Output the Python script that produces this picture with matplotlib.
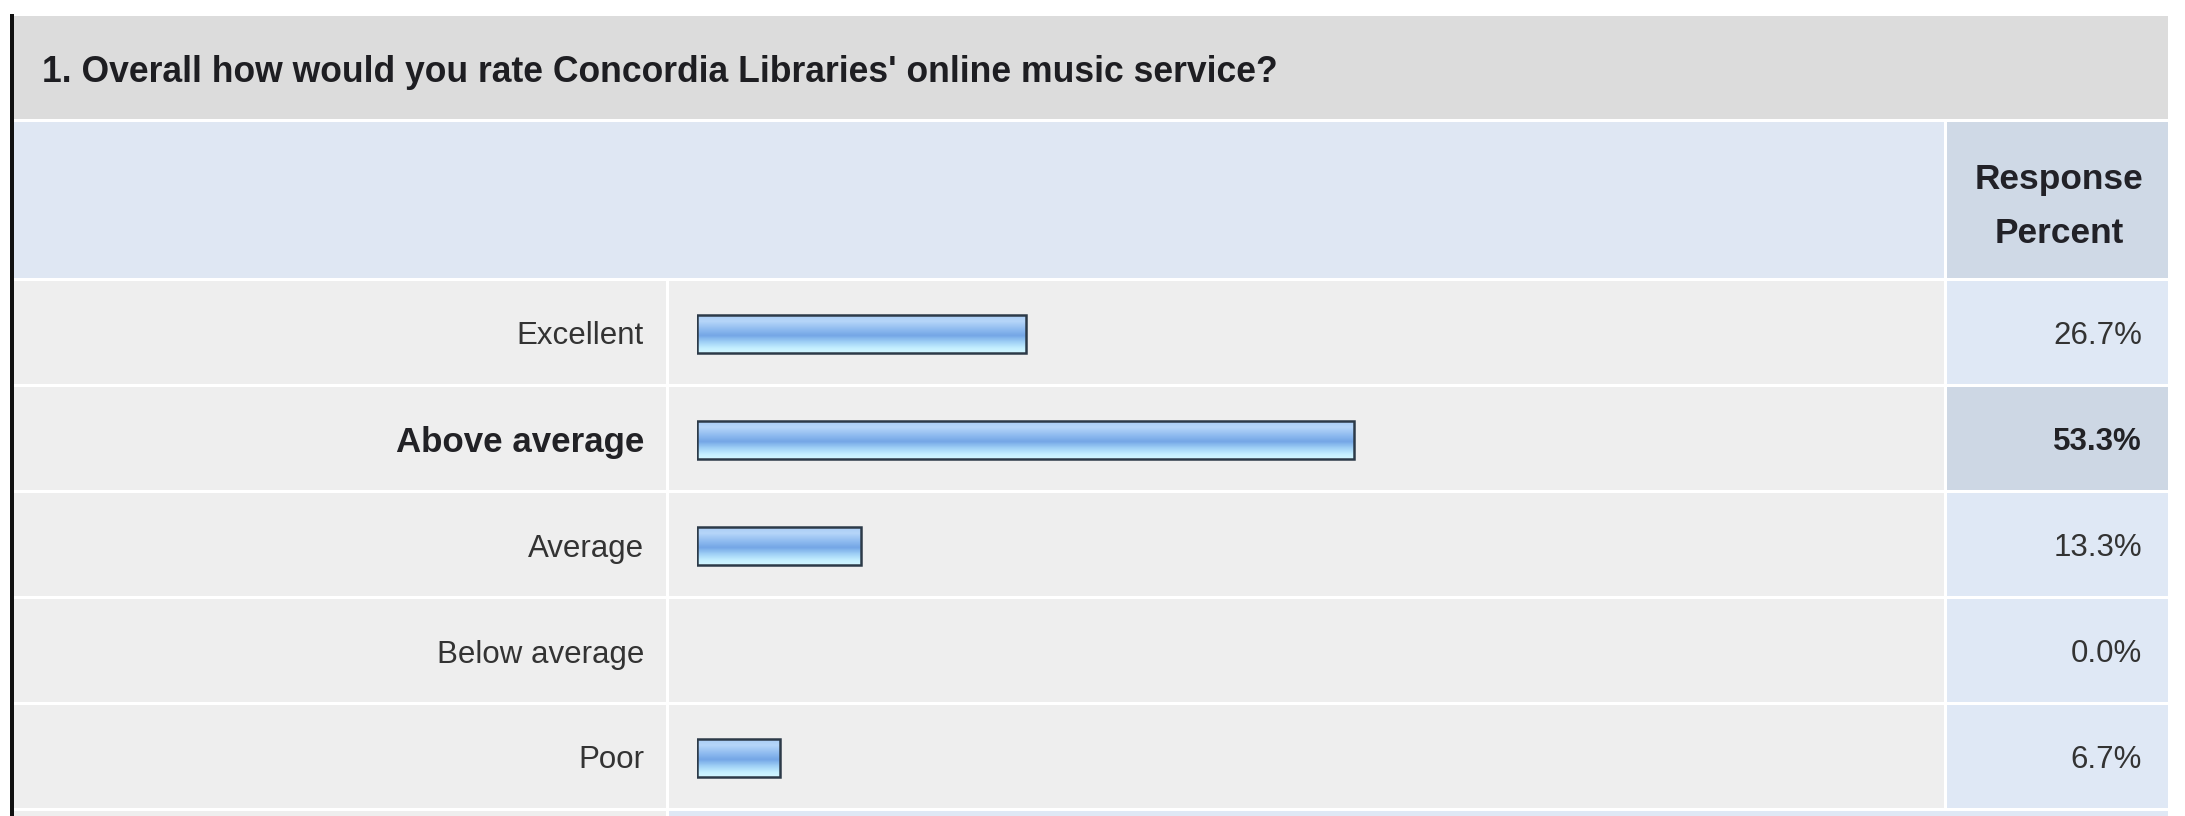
import numpy as np
import matplotlib
matplotlib.use("Agg")
import matplotlib.pyplot as plt
from matplotlib.patches import Rectangle
from matplotlib.colors import to_rgb

# ---- data ----
title = "1. Overall how would you rate Concordia Libraries' online music service?"
categories = ["Excellent", "Above average", "Average", "Below average", "Poor"]
percents = [26.7, 53.3, 13.3, 0.0, 6.7]
header_lines = ["Response", "Percent"]
highlight_row = 1

W, H = 2185, 816
fig = plt.figure(figsize=(W / 100, H / 100), dpi=100)
fig.patch.set_facecolor("white")
FONT = "Liberation Sans"

bg = fig.add_axes([0, 0, 1, 1])
bg.set_xlim(0, W)
bg.set_ylim(H, 0)
bg.axis("off")

def rect(x0, y0, x1, y1, color, z=1):
    bg.add_patch(Rectangle((x0, y0), x1 - x0, y1 - y0, facecolor=color,
                           edgecolor="none", zorder=z))

renderer = fig.canvas.get_renderer()

def fit(t, target_w):
    w = t.get_window_extent(renderer).width
    t.set_fontsize(t.get_fontsize() * target_w / w)

# layout (pixels)
L, R = 14, 2168
col1 = 669      # label/bar divider
col2 = 1947     # bar/percent divider
gap = 3
row_top = 281
row_h = 106
n = len(categories)

rect(10, 14, 14, H, "#111111", z=5)
rect(L, 16, R, 119, "#dcdcdc")
rect(L, 122, col2 - gap, 278, "#dfe7f3")
rect(col2, 122, R, 278, "#cfd9e6")

for i in range(n + 1):
    y0 = row_top + i * row_h
    y1 = y0 + row_h - gap
    if i < n:
        rect(L, y0, col1 - gap, y1, "#eeeeee")
        rect(col1, y0, col2 - gap, y1, "#eeeeee")
        rect(col2, y0, R, y1, "#cdd7e4" if i == highlight_row else "#dfe8f5")
    else:
        rect(L, y0, col1 - gap, y1, "#eeeeee")
        rect(col1, y0, R, y1, "#dfe8f5")

# texts
tt = bg.text(42, 82, title, fontsize=25, fontweight="bold", family=FONT,
             color="#1e1e22", va="baseline", ha="left")
fit(tt, 1236)
h1 = bg.text(2059, 189, header_lines[0], fontsize=25, fontweight="bold",
             family=FONT, color="#222228", va="baseline", ha="center")
fit(h1, 169)
bg.text(2059, 243, header_lines[1], fontsize=h1.get_fontsize(), fontweight="bold",
        family=FONT, color="#222228", va="baseline", ha="center")

for i, (c, p) in enumerate(zip(categories, percents)):
    yc = row_top + i * row_h + (row_h - gap) / 2 + 4
    bold = i == highlight_row
    lt = bg.text(644, yc, c, fontsize=22.5, family=FONT,
                 color="#222226" if bold else "#333333",
                 ha="right", va="center", fontweight="bold" if bold else "normal")
    if bold:
        fit(lt, 248)
    bg.text(2142, yc, f"{p:.1f}%", fontsize=22.5, family=FONT,
            color="#222226" if bold else "#333333",
            ha="right", va="center", fontweight="bold" if bold else "normal")

# ---- bar axes: 0..100 % ----
x0px, x100px = 697, 1930
ax = fig.add_axes([x0px / W, 1 - (row_top + n * row_h) / H,
                   (x100px - x0px) / W, n * row_h / H])
ax.set_xlim(0, 100)
ax.set_ylim(n - 0.5, -0.5)
ax.axis("off")
ax.patch.set_alpha(0)

bar_h = 0.36
ypos = np.arange(n)
stops = [(0.0, "#a9cbf4"), (0.18, "#b6d6f9"), (0.4, "#8dbaef"),
         (0.55, "#74a6e6"), (0.72, "#9fd0f6"), (0.88, "#c4efff"), (1.0, "#d2f6ff")]
t = np.linspace(0, 1, 64)
grad = np.zeros((64, 1, 3))
for k in range(3):
    grad[:, 0, k] = np.interp(t, [s[0] for s in stops],
                              [to_rgb(s[1])[k] for s in stops])

bars = ax.barh(ypos, percents, height=bar_h, facecolor="none",
               edgecolor="none", zorder=2)
for b, p in zip(bars, percents):
    if p <= 0:
        continue
    xx, yy = b.get_x(), b.get_y()
    w, h = b.get_width(), b.get_height()
    im = ax.imshow(grad, extent=(xx, xx + w, yy + h, yy), origin="upper",
                   aspect="auto", zorder=2, interpolation="bilinear")
    im.set_clip_path(b)
edges = ax.barh([y for y, p in zip(ypos, percents) if p > 0],
                [p for p in percents if p > 0], height=bar_h,
                facecolor="none", edgecolor="#2c3a48", linewidth=1.8, zorder=3)
ax.set_xlim(0, 100)
ax.set_ylim(n - 0.5, -0.5)

fig.savefig("out.png", dpi=100, facecolor="white")
